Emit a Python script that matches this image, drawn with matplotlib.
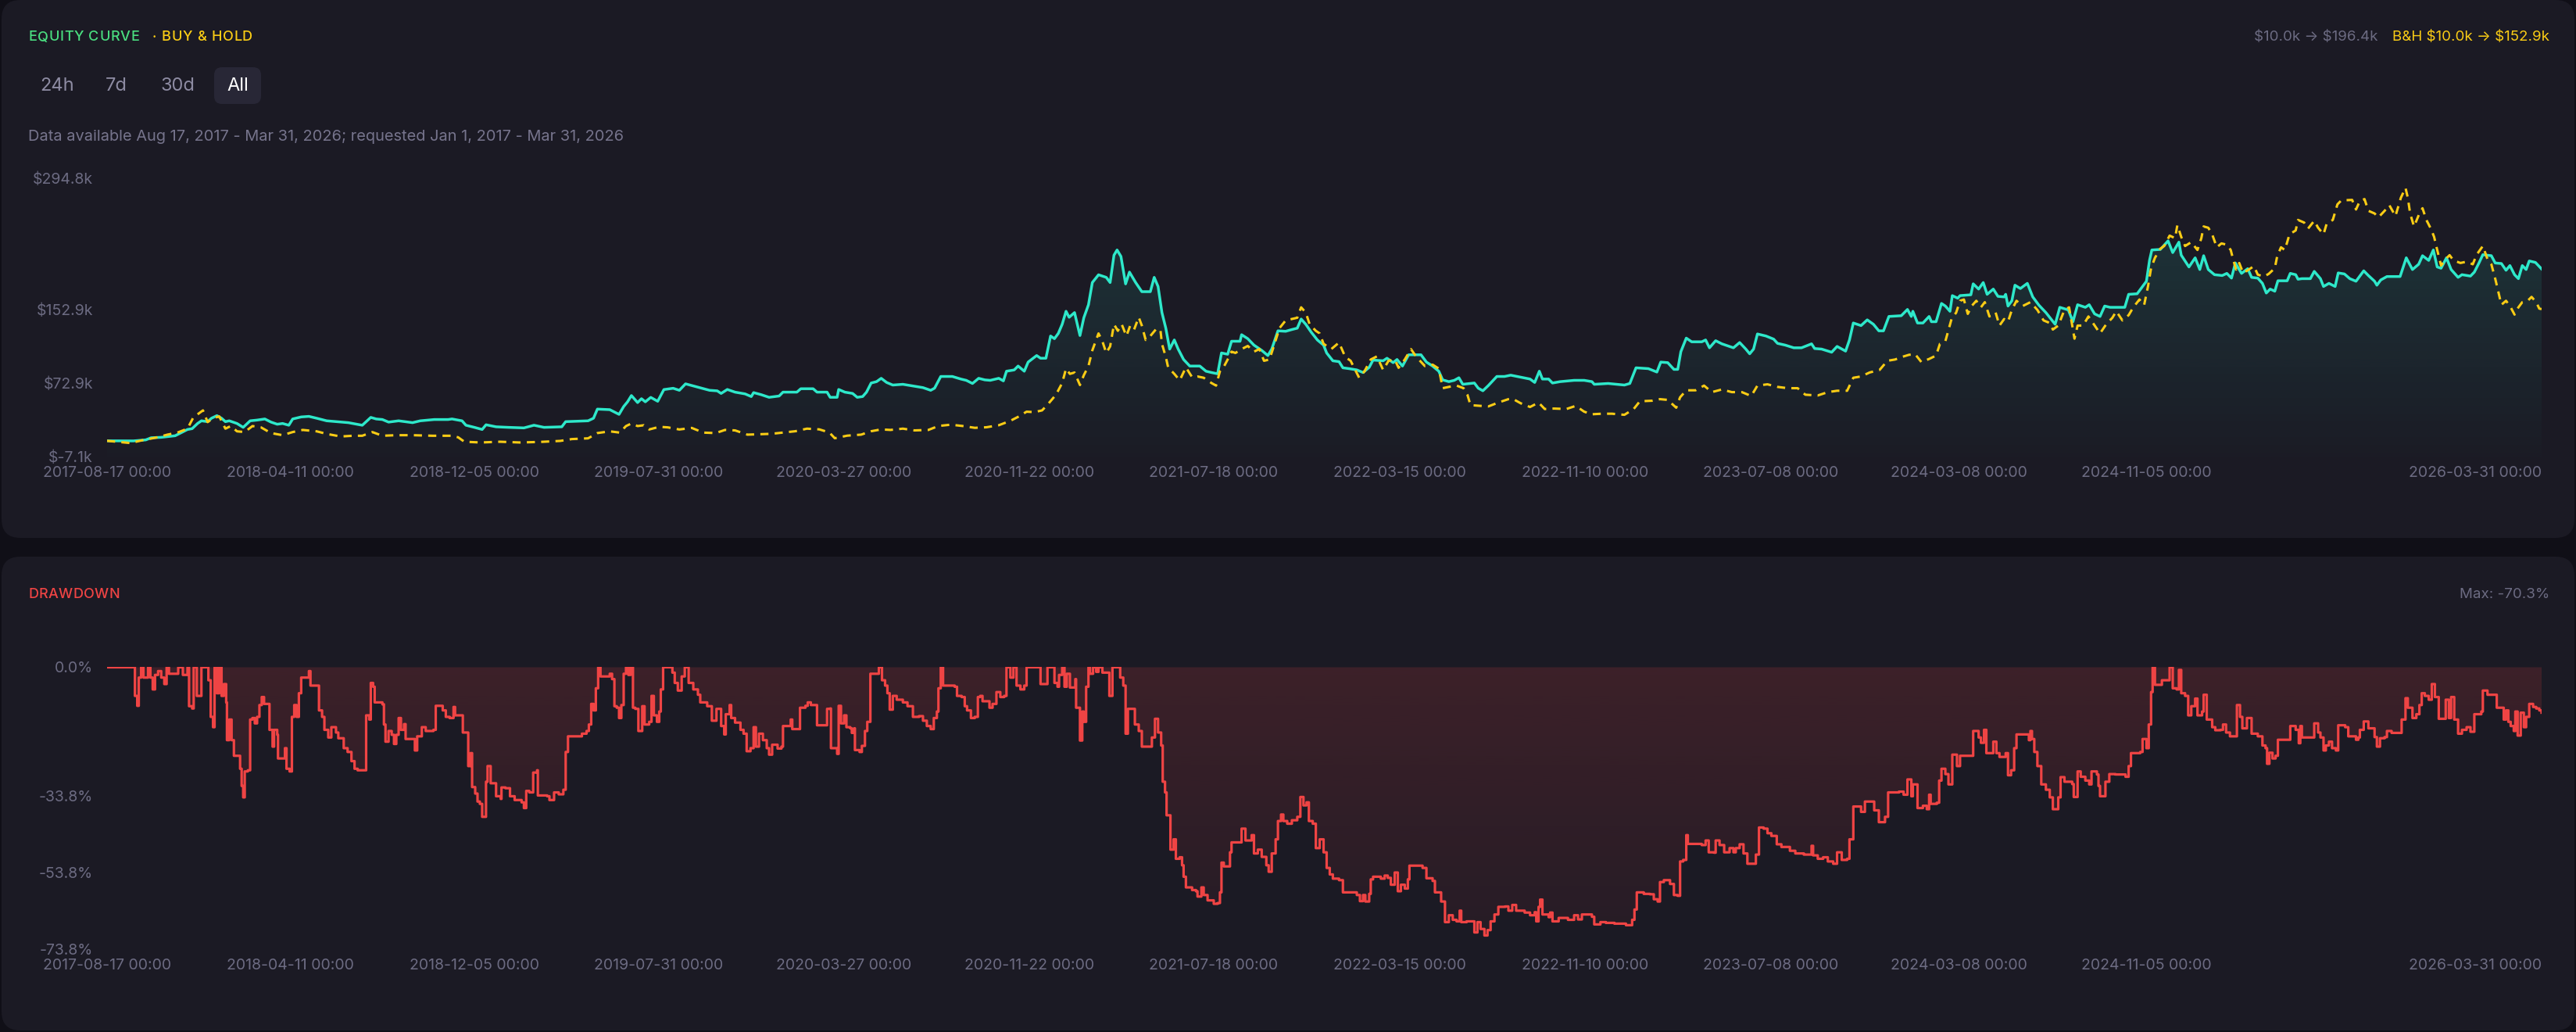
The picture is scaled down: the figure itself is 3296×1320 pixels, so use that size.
import numpy as np
import matplotlib
matplotlib.use("Agg")
import matplotlib.pyplot as plt
import matplotlib.dates as mdates
from matplotlib.patches import FancyBboxPatch
from matplotlib.font_manager import FontProperties

plt.rcParams['font.family'] = ['Inter', 'DejaVu Sans']

START = np.datetime64('2017-08-17')
END_DAY = 3148

# strategy equity, k$ (day offset from start, value)
eq_days = [0, 34, 50, 57, 70, 88, 96, 104, 110, 117, 122, 130, 135, 142, 148, 153, 158, 168, 176, 185,
           194, 204, 212, 220, 227, 235, 240, 251, 261, 271, 284, 297, 312, 330, 341, 348, 356, 364, 377, 395,
           405, 423, 441, 446, 459, 464, 475, 485, 490, 503, 519, 539, 552, 565, 588, 593, 622, 629, 634, 650,
           662, 668, 673, 678, 686, 691, 696, 703, 712, 720, 732, 740, 748, 763, 779, 789,
           794, 802, 812, 825, 833, 836, 846, 856, 869, 874, 892, 897, 913, 918, 931, 935, 944, 946, 954, 964,
           970, 977, 982, 988, 995, 1001, 1008, 1016, 1029, 1039, 1055, 1065, 1070, 1078, 1093, 1104, 1111, 1119,
           1127, 1135, 1142, 1153, 1159, 1163, 1173, 1178, 1186, 1191, 1202, 1207, 1214, 1220, 1225, 1230, 1235,
           1240, 1244, 1251, 1258, 1263, 1269, 1274, 1282, 1292, 1297, 1302, 1306, 1311, 1317, 1322, 1330, 1338,
           1349, 1354, 1359, 1364, 1369, 1374, 1380, 1385, 1392, 1400, 1413, 1421, 1428, 1436, 1441, 1449, 1454,
           1465, 1467, 1475, 1483, 1493, 1501, 1506, 1514, 1524, 1532, 1539, 1544, 1550, 1557, 1565, 1573,
           1577, 1585, 1593, 1598, 1606, 1616, 1624, 1632, 1637, 1650, 1655, 1663, 1668, 1675, 1683, 1699, 1706,
           1714, 1722, 1727, 1735, 1742, 1748, 1753, 1763, 1768, 1773, 1779, 1786, 1797, 1807, 1815, 1828, 1840,
           1846, 1852, 1856, 1864, 1869, 1879, 1897, 1910, 1920, 1923, 1941, 1962, 1969, 1977, 1993, 2004, 2009,
           2018, 2026, 2031, 2035, 2042, 2049, 2062, 2067, 2072, 2080, 2088, 2096, 2103, 2111, 2119, 2124, 2129,
           2134, 2145, 2155, 2160, 2170, 2181, 2191, 2204, 2208, 2217, 2230, 2237, 2248, 2253, 2258, 2268, 2276,
           2284, 2291, 2297, 2304, 2320, 2328, 2333, 2335, 2341,
           2348, 2356, 2359, 2365, 2372, 2377, 2383, 2386, 2393, 2396, 2410, 2413, 2420, 2426, 2431, 2439, 2445,
           2453, 2455, 2458, 2463, 2467, 2474, 2483, 2490, 2498, 2507, 2515, 2519, 2525, 2536, 2542, 2548, 2558,
           2563, 2570, 2577, 2583, 2590, 2609, 2614, 2625, 2632, 2637, 2641, 2644, 2655, 2665, 2671, 2679, 2682,
           2692, 2700, 2706, 2711, 2717, 2725, 2735, 2741, 2747, 2752, 2760, 2768, 2773, 2781, 2787, 2792, 2797,
           2803, 2807, 2819, 2823, 2830, 2833, 2838, 2849, 2854, 2862, 2866, 2873, 2881, 2885, 2893, 2900, 2908,
           2918, 2924, 2932, 2935, 2940, 2948, 2965, 2973, 2981, 2989, 2994, 3002, 3008, 3013, 3018, 3025, 3031,
           3040, 3045, 3056, 3061, 3067, 3072, 3083, 3088, 3096, 3102, 3107, 3113, 3118, 3123, 3128, 3132, 3140,
           3148]
eq_vals = [10.0, 9.9, 11.0, 13.3, 13.8, 15.5, 18.9, 22.3, 23.2, 28.8, 31.7, 30.8, 34.5, 37.3, 34.5, 30.8, 31.7, 28.8, 24.6, 31.7,
           32.5, 33.7, 30.3, 28.0, 28.8, 26.9, 33.7, 35.9, 36.5, 34.5, 31.7, 30.8, 29.7, 26.9, 35.4, 33.7, 33.1, 30.3, 31.7, 29.7,
           31.7, 33.1, 33.1, 33.7, 31.7, 26.9, 24.6, 22.3, 27.4, 25.2, 24.6, 24.0, 26.9, 24.6, 25.2, 30.8, 31.7, 34.5, 44.4, 43.8,
           38.7, 47.2, 52.3, 59.1, 51.5, 55.7, 52.3, 57.1, 52.9, 65.6, 67.0, 64.8, 71.8, 68.4, 64.8, 64.2,
           61.4, 65.7, 62.8, 60.9, 58.0, 62.3, 60.0, 57.2, 58.6, 62.8, 62.8, 66.5, 66.5, 62.8, 62.8, 57.2, 57.2, 65.7, 62.8, 61.4,
           57.2, 58.0, 62.8, 72.7, 74.2, 77.8, 73.3, 70.5, 71.3, 69.9, 67.7, 64.8, 67.1, 79.8, 79.8, 77.0, 75.6, 72.2,
           77.8, 76.1, 75.6, 77.8, 75.0, 85.5, 86.9, 91.1, 85.5, 95.4, 102.5, 99.6, 99.6, 123.7, 120.8, 126.5, 136.4,
           150.5, 144.0, 149.1, 124.2, 143.5, 157.6, 181.7, 190.1, 187.3, 181.7, 211.4, 217.0, 210.0, 180.2, 193.0, 181.7, 171.8,
           171.8, 187.3, 177.4, 149.1, 132.2, 109.5, 119.4, 109.5, 98.2, 91.1, 91.1, 85.5, 84.1, 82.7, 105.3, 103.9, 118.0,
           118.0, 125.1, 120.8, 113.8, 108.1, 102.5, 109.5, 129.3, 128.8, 130.7, 132.2, 142.1, 136.4, 127.9, 119.4, 113.8,
           105.3, 96.8, 95.9, 89.2, 88.3, 86.9, 84.1, 89.7, 97.6, 96.8, 99.6, 94.8, 98.2, 91.1, 103.3, 103.3, 95.4,
           91.1, 85.5, 76.1, 74.2, 75.6, 78.4, 71.3, 72.2, 72.7, 67.1, 64.3, 69.9, 79.8, 79.8, 81.2, 79.0, 77.0,
           73.3, 85.5, 77.0, 77.0, 72.7, 74.2, 75.6, 75.6, 74.2, 71.3, 72.2, 70.5, 72.2, 89.2, 88.3, 84.6, 95.4,
           94.8, 87.5, 87.5, 106.7, 121.4, 117.4, 117.4, 119.4, 110.9, 118.6, 115.2, 112.9, 110.9, 116.6, 109.5, 104.4, 109.5,
           125.9, 123.7, 120.3, 115.7, 113.8, 110.9, 110.9, 115.2, 110.1, 109.5, 106.1, 112.4, 107.3, 119.4, 137.8, 135.0, 141.2,
           136.4, 129.3, 129.3, 144.9, 145.7, 152.5, 144.9, 150.5, 137.8,
           137.8, 144.9, 139.2, 139.2, 159.0, 156.2, 150.5, 167.5, 164.7, 167.5, 168.4, 180.3, 174.6, 181.7, 168.9, 174.6, 166.7,
           166.1, 168.9, 156.2, 161.9, 178.8, 175.2, 180.8, 166.1, 157.1, 149.1, 140.6, 136.4, 154.8, 152.0, 139.2, 157.6, 154.8,
           157.6, 147.7, 144.9, 156.2, 154.8, 154.8, 168.9, 169.5, 177.4, 183.1, 205.7, 217.0, 217.6, 226.9, 214.2, 225.5, 211.4,
           198.6, 208.5, 195.8, 210.8, 195.8, 190.2, 189.3, 191.6, 186.5, 202.9, 191.6, 196.7, 187.3, 186.5, 180.8, 170.3, 174.6,
           172.3, 183.6, 183.6, 191.6, 190.2, 185.3, 185.9, 185.9, 193.8, 185.9, 177.4, 180.8, 177.4, 192.1, 191.0, 185.9, 183.1,
           194.4, 189.3, 183.1, 178.8, 184.5, 188.2, 188.2, 208.5, 195.8, 201.5, 210.8, 205.7, 217.0, 198.6, 197.2, 208.5, 195.8,
           187.3, 190.2, 188.7, 193.0, 202.9, 211.9, 210.8, 202.9, 202.3, 195.0, 200.1, 190.2, 185.9, 200.1, 195.8, 205.1, 203.5,
           196.4]

# buy & hold, k$
bh_days = [0, 30, 45, 65, 78, 91, 104, 111, 117, 124, 130, 137, 145, 153, 160, 168, 178, 188, 199, 212,
           227, 240, 253, 271, 284, 302, 318, 330, 343, 356, 374, 395, 421, 446, 454, 462, 483, 508, 534, 560,
           586, 601, 622, 634, 650, 663, 671, 678, 686, 694, 701, 714, 725, 740, 756, 771, 787,
           799, 812, 828, 859, 874, 890, 905, 921, 934, 941, 957, 975, 988, 1001, 1013, 1029, 1044, 1062, 1075,
           1091, 1106, 1122, 1137, 1153, 1168, 1178, 1189, 1199, 1209, 1217, 1227, 1235, 1240, 1245, 1251, 1258,
           1263, 1269, 1274, 1282, 1287, 1292, 1297, 1302, 1307, 1312, 1318, 1323, 1328, 1334, 1338, 1343, 1349,
           1356, 1362, 1364, 1369, 1372, 1380, 1387, 1395, 1403, 1410, 1418, 1428, 1434, 1439, 1444, 1449, 1454,
           1459, 1467, 1475, 1483, 1490, 1496, 1503, 1508, 1516, 1524, 1532, 1539, 1544, 1550, 1555, 1563, 1568,
           1573, 1583, 1593, 1601, 1608, 1619, 1626, 1634, 1642, 1650, 1657, 1665, 1670, 1678, 1686, 1693, 1704,
           1714, 1722, 1727, 1735, 1745, 1754, 1759, 1763, 1776, 1786, 1799, 1812, 1817, 1828, 1840, 1851, 1859,
           1871, 1887, 1899, 1910, 1920, 1933, 1946, 1962, 1974, 1982, 1998, 2008, 2018, 2029, 2034, 2042, 2054,
           2065, 2075, 2088, 2101, 2114, 2126, 2134, 2147, 2160, 2173, 2186, 2196, 2212, 2225, 2237, 2250, 2258,
           2268, 2279, 2292, 2302, 2312, 2321, 2330, 2338, 2346,
           2356, 2365, 2370, 2377, 2385, 2391, 2396, 2401, 2406, 2411, 2417, 2423, 2428, 2434, 2442, 2447, 2453,
           2458, 2463, 2469, 2477, 2487, 2496, 2504, 2512, 2516, 2523, 2531, 2537, 2544, 2548, 2555, 2562, 2569,
           2577, 2585, 2593, 2598, 2606, 2614, 2620, 2628, 2634, 2639, 2643, 2648, 2655, 2660, 2667, 2674, 2677,
           2682, 2687, 2695, 2703, 2708, 2711, 2717, 2722, 2728, 2734, 2741, 2746, 2749, 2753, 2757, 2762, 2768,
           2776, 2781, 2789, 2795, 2803, 2806, 2811, 2816, 2822, 2830, 2833, 2841, 2846, 2854, 2859, 2866, 2870,
           2878, 2884, 2889, 2903, 2908, 2913, 2919, 2924, 2932, 2937, 2945, 2951, 2959, 2966, 2972, 2975, 2978,
           2983, 2990, 2994, 2999, 3005, 3009, 3013, 3018, 3024, 3029, 3034, 3043, 3051, 3059, 3064, 3072, 3078,
           3083, 3088, 3092, 3096, 3102, 3108, 3113, 3118, 3123, 3130, 3135, 3141, 3145, 3148]
bh_vals = [10.0, 7.6, 10.5, 13.8, 16.7, 18.9, 23.2, 34.5, 38.7, 43.0, 30.3, 34.5, 36.5, 23.2, 26.0, 20.3, 19.5, 26.0, 24.6, 18.4,
           16.1, 19.5, 21.8, 20.3, 17.5, 14.7, 15.5, 15.5, 19.5, 15.5, 16.1, 16.1, 15.5, 15.5, 13.8, 9.0, 8.2, 9.0, 8.2, 8.8,
           9.9, 11.9, 12.7, 18.4, 20.3, 18.9, 26.0, 28.8, 26.0, 26.9, 22.3, 25.2, 24.6, 22.3, 24.0, 18.9, 18.4,
           21.8, 21.3, 16.7, 17.6, 19.0, 20.4, 23.2, 22.4, 19.0, 12.8, 15.6, 16.7, 20.4, 22.4, 21.8, 23.2, 21.3, 21.8, 26.1,
           27.5, 26.1, 24.1, 24.7, 26.9, 31.7, 36.0, 41.6, 41.1, 43.0, 50.1, 60.0, 72.7, 88.3, 82.6, 84.1, 70.5,
           81.2, 91.1, 108.1, 126.5, 118.0, 105.3, 112.4, 136.4, 129.3, 136.4, 123.7, 135.0, 130.7, 144.0, 135.0, 119.4, 123.7,
           130.7, 130.7, 115.2, 101.0, 89.7, 82.6, 75.6, 89.7, 79.0, 79.8, 78.4, 72.7, 69.9, 85.5, 90.3, 98.2, 106.7,
           105.3, 109.5, 112.9, 106.7, 109.5, 96.8, 98.2, 110.9, 132.2, 140.6, 142.1, 143.5, 154.8, 149.1, 136.4, 129.3, 126.5,
           115.2, 109.5, 116.6, 101.0, 96.8, 78.4, 85.5, 98.2, 101.6, 86.9, 96.8, 98.2, 89.2, 98.2, 109.5, 101.0, 91.1,
           92.6, 88.3, 67.1, 68.5, 69.9, 67.1, 60.0, 48.7, 47.9, 47.3, 51.5, 55.2, 55.8, 50.7, 46.7, 51.5, 44.5,
           45.0, 44.5, 47.9, 41.6, 38.8, 39.4, 39.4, 38.2, 44.5, 52.9, 53.5, 55.2, 54.4, 45.9, 57.2, 64.8, 64.8,
           69.9, 62.8, 65.7, 62.8, 62.8, 58.6, 69.9, 71.3, 68.5, 67.1, 67.1, 60.0, 59.2, 62.8, 64.3, 64.3, 78.4,
           79.8, 84.1, 86.9, 96.8, 98.2, 101.0, 103.3, 103.9, 95.4,
           98.8, 102.5, 115.2, 118.0, 142.1, 149.1, 161.9, 163.3, 147.7, 156.2, 161.9, 154.8, 160.4, 144.9, 149.1, 135.0, 142.1,
           139.2, 152.0, 161.9, 156.2, 160.4, 152.0, 140.6, 137.8, 130.7, 135.0, 152.0, 154.8, 120.8, 135.0, 135.0, 144.9, 136.4,
           126.5, 136.4, 143.5, 150.5, 140.6, 146.3, 154.8, 163.3, 157.1, 177.4, 197.2, 208.5, 218.4, 221.3, 232.6, 229.8, 243.9,
           231.2, 221.3, 225.5, 217.0, 229.8, 242.5, 241.1, 234.0, 219.9, 224.1, 222.7, 217.0, 207.1, 195.8, 202.9, 192.1, 195.0,
           199.5, 190.2, 188.2, 191.0, 197.2, 209.9, 219.9, 217.0, 234.0, 238.2, 249.6, 246.7, 240.2, 248.7, 241.1, 234.0, 245.3,
           249.6, 266.5, 270.8, 271.3, 260.9, 270.2, 272.2, 259.5, 256.6, 252.4, 259.5, 265.7, 253.8, 273.6, 284.4, 273.6, 256.6,
           242.5, 256.6, 262.3, 249.6, 239.7, 231.2, 217.0, 200.1, 207.1, 211.4, 205.7, 202.9, 204.3, 201.5, 211.9, 221.3, 207.1,
           201.5, 185.9, 171.8, 157.6, 161.9, 154.8, 146.9, 154.8, 160.4, 161.9, 166.1, 160.4, 153.4, 152.9]

# drawdown, % (step series)
dd_days = [0, 35, 36, 39, 41, 44, 47, 53, 56, 59, 62, 66, 70, 74, 77, 80, 89, 92, 98, 104,
           106, 110, 112, 116, 120, 122, 131, 134, 137, 139, 142, 145, 148, 151, 154, 155, 158, 161, 164, 170,
           172, 174, 176, 178, 182, 185, 188, 191, 194, 197, 200, 203, 209, 210, 214, 216, 220, 221, 228, 230,
           232, 236, 239, 242, 245, 248, 251, 257, 261, 263, 270, 274, 278, 281, 286, 290, 296, 299, 305, 306,
           311, 316, 320, 324, 332, 335, 339, 341, 344, 346, 356, 358, 360, 364, 368, 371, 374, 377, 380, 384,
           386, 395, 398, 401, 407, 412, 422, 425, 434, 438, 443, 448, 450, 458, 460, 464, 467, 470, 472, 476,
           479, 482, 485, 488, 490, 492, 496, 500, 503, 509, 510, 515, 521, 527, 536, 539, 542, 546, 551, 556,
           557, 569, 572, 578, 584, 590, 593, 596, 608, 614, 620, 623, 626, 629, 632, 635, 638, 647, 650, 653,
           656, 659, 662, 665, 668, 671, 674, 677, 680, 683, 687, 692, 695, 701, 704, 707, 711, 714, 716, 719,
           731, 734, 738, 743, 747, 752, 758, 764, 767, 776, 782, 788, 794, 798,
           800, 805, 807, 812, 819, 823, 827, 832, 836, 839, 843, 848, 853, 856, 860, 867, 872, 874, 880, 884,
           886, 894, 896, 903, 906, 910, 917, 918, 928, 931, 935, 936, 944, 946, 949, 953, 956, 961, 963, 966,
           967, 973, 976, 980, 983, 987, 995, 998, 1002, 1006, 1009, 1012, 1016, 1021, 1029, 1035, 1042, 1050, 1055,
           1060, 1065, 1069, 1073, 1075, 1078, 1081, 1096, 1099, 1105, 1109, 1112, 1117, 1122, 1126, 1129, 1132, 1138,
           1141, 1145, 1150, 1155, 1160, 1163, 1168, 1172, 1176, 1181, 1186, 1189, 1202, 1207, 1213, 1216, 1222, 1225,
           1229, 1231, 1235, 1238, 1241, 1245, 1250, 1252, 1253, 1258, 1261, 1263, 1266, 1269, 1271, 1275, 1279, 1282,
           1287, 1292, 1296, 1300, 1306, 1310, 1314, 1317, 1320, 1325, 1329, 1334, 1338, 1348, 1351, 1355, 1359, 1363,
           1365, 1368, 1370, 1374, 1375, 1379, 1382, 1387, 1390, 1392, 1395, 1403, 1408, 1410, 1415, 1418, 1423, 1431,
           1436, 1439, 1441, 1444, 1449, 1452, 1454, 1462, 1467, 1472, 1476, 1480, 1483, 1488, 1493, 1499, 1502, 1506,
           1511, 1514, 1518, 1521, 1526, 1532, 1539, 1543, 1547, 1551, 1554, 1559, 1563, 1568, 1573,
           1577, 1581, 1585, 1593, 1598, 1608, 1616, 1620, 1624, 1627, 1632, 1634, 1637, 1647, 1652, 1656, 1660, 1665,
           1669, 1673, 1678, 1682, 1684, 1701, 1706, 1714, 1717, 1722, 1725, 1730, 1735, 1740, 1745, 1749, 1751, 1758,
           1765, 1768, 1772, 1776, 1781, 1785, 1789, 1794, 1799, 1808, 1812, 1817, 1822, 1833, 1840, 1846, 1848, 1851,
           1853, 1856, 1864, 1866, 1869, 1877, 1889, 1897, 1902, 1907, 1920, 1923, 1931, 1938, 1949, 1964, 1972, 1975,
           1978, 1987, 1995, 2000, 2005, 2008, 2013, 2021, 2026, 2031, 2034, 2038, 2042, 2044, 2062, 2067, 2071, 2078,
           2080, 2085, 2091, 2098, 2103, 2106, 2111, 2116, 2121, 2129, 2132, 2136, 2142, 2147, 2152, 2159, 2165, 2176,
           2183, 2194, 2204, 2206, 2212, 2219, 2225, 2232, 2237, 2243, 2250, 2253, 2258, 2268, 2273, 2281, 2285, 2291,
           2299, 2303, 2317, 2323, 2328, 2333, 2335, 2341,
           2348, 2353, 2356, 2358, 2366, 2369, 2372, 2377, 2381, 2385, 2386, 2392, 2396, 2412, 2413, 2420, 2423, 2427,
           2430, 2436, 2439, 2443, 2447, 2453, 2455, 2458, 2462, 2466, 2469, 2485, 2487, 2489, 2492, 2496, 2501, 2507,
           2512, 2516, 2521, 2523, 2526, 2531, 2541, 2543, 2546, 2548, 2552, 2558, 2563, 2566, 2573, 2575, 2577, 2580,
           2584, 2589, 2597, 2606, 2610, 2614, 2617, 2629, 2632, 2637, 2640, 2643, 2645, 2648, 2655, 2657, 2665, 2667,
           2671, 2676, 2679, 2682, 2687, 2691, 2695, 2700, 2703, 2709, 2711, 2715, 2722, 2726, 2733, 2736, 2740, 2745,
           2753, 2754, 2758, 2761, 2767, 2773, 2781, 2787, 2791, 2793, 2796, 2800, 2804, 2807, 2822, 2823, 2830, 2834,
           2836, 2838, 2849, 2854, 2859, 2862, 2866, 2869, 2873, 2877, 2882, 2885, 2894, 2898, 2908, 2911, 2913, 2918,
           2924, 2928, 2932, 2935, 2939, 2945, 2948, 2954, 2966, 2967, 2972, 2975, 2981, 2986, 2990, 2993, 2997, 3002,
           3006, 3010, 3015, 3021, 3024, 3028, 3031, 3035, 3040, 3045, 3051, 3056, 3061, 3070, 3072, 3078, 3088, 3090,
           3098, 3099, 3102, 3105, 3108, 3112, 3114, 3117, 3121, 3125, 3128, 3132, 3137, 3141, 3145, 3148]
dd_vals = [0, 0, -7.5, -10.1, -2.7, 0, -2.7, 0, -2.7, -5.8, -2.0, -1.0, -2.7, -4.4, 0, -1.7, -1.7, 0, -2.0, 0,
           -10.2, -10.8, 0, -7.5, -7.5, 0, -3.4, -13.0, -15.7, 0, -6.8, 0, -7.5, -4.4, -9.2, -19.1, -13.7, -19.1, -23.2, -23.2,
           -26.6, -31.1, -34.1, -27.3, -27.0, -13.7, -13.3, -14.7, -13.0, -9.9, -7.8, -9.6, -9.6, -16.4, -20.8, -16.4, -17.7, -23.9, -23.9, -21.2,
           -26.6, -27.3, -13.0, -9.9, -13.0, -6.8, -2.7, -2.7, -1.0, -4.8, -4.8, -11.3, -13.0, -16.4, -18.4, -15.7, -17.1, -18.6, -18.6, -21.2,
           -22.2, -24.6, -26.6, -27.0, -27.0, -12.6, -13.7, -4.1, -5.1, -9.2, -9.7, -15.0, -19.5, -16.7, -17.7, -20.1, -17.7, -13.3, -16.4, -14.9,
           -18.8, -18.8, -21.8, -18.1, -15.7, -16.7, -16.4, -10.1, -11.3, -13.0, -13.3, -10.4, -12.6, -12.6, -17.1, -17.1, -25.9, -22.5, -31.4, -33.1,
           -35.2, -35.8, -39.2, -39.2, -30.0, -25.9, -30.4, -30.4, -33.8, -34.5, -31.5, -31.7, -33.8, -34.8, -35.4, -36.9, -32.4, -32.8, -27.6, -27.0,
           -33.6, -33.8, -34.8, -32.8, -33.3, -32.1, -22.2, -18.1, -18.1, -17.4, -16.7, -15.0, -9.6, -11.3, -5.5, 0, -2.4, -2.4, -1.7, -3.1,
           -10.2, -10.6, -13.3, -9.9, -1.7, 0, -2.0, 0, -10.6, -10.9, -16.7, -10.2, -15.0, -14.3, -7.5, -12.6, -14.3, -11.6, -5.8, 0,
           -1.4, -4.1, -6.1, -2.4, 0, -4.1, -5.8, -7.2, -9.2, -10.2, -14.0, -10.9, -15.4, -17.6,
           -12.3, -9.9, -13.3, -14.5, -16.4, -17.4, -22.0, -21.2, -15.7, -20.8, -17.4, -19.1, -21.2, -22.9, -20.3, -21.3, -20.8, -15.4, -15.4, -13.7,
           -16.2, -16.2, -10.6, -10.1, -9.2, -9.9, -9.9, -15.2, -15.2, -10.9, -10.8, -21.2, -22.7, -10.1, -14.7, -12.6, -15.7, -16.0, -17.2, -16.0,
           -21.7, -22.2, -20.6, -16.7, -14.3, -1.7, -1.7, 0, -3.4, -4.8, -6.8, -11.1, -7.5, -8.5, -9.2, -10.2, -13.0, -12.8, -14.0,
           -15.4, -16.2, -13.3, -11.6, -5.5, 0, -4.8, -5.1, -7.5, -7.8, -10.2, -11.3, -13.3, -13.0, -7.8, -7.5, -8.9, -8.9,
           -10.6, -9.6, -6.5, -7.8, -7.5, 0, -2.7, 0, -4.8, -5.8, -4.8, 0, 0, -4.4, -4.4, 0, 0, -4.1,
           -5.1, -2.0, 0, -5.1, -1.7, -5.3, -5.3, -3.1, -10.6, -19.2, -11.6, -14.3, -5.1, 0, -1.7, 0, -1.2, 0,
           -1.4, -1.4, -7.5, 0, 0, -2.7, -4.8, -17.4, -10.9, -10.9, -15.0, -16.7, -20.8, -20.8, -18.4, -13.5, -17.1, -20.5,
           -30.0, -32.8, -38.8, -38.8, -47.8, -45.1, -50.2, -49.8, -51.9, -54.9, -57.7, -58.4, -58.7, -60.1, -57.7, -59.7, -61.1, -62.0,
           -61.8, -59.0, -51.2, -52.2, -52.2, -48.5, -45.9, -45.9, -42.3, -45.4, -45.4, -44.0, -48.8, -47.8, -49.7, -51.9, -53.6, -48.8,
           -45.1, -40.3, -38.6, -40.3, -41.0, -40.1, -39.2, -34.0, -36.2, -35.4, -40.3, -41.0, -47.4, -45.1, -48.5,
           -52.6, -54.3, -55.4, -55.8, -59.0, -59.0, -59.7, -61.3, -59.7, -61.4, -59.4, -55.6, -54.9, -55.4, -54.6, -55.2, -57.0, -53.8,
           -58.7, -57.0, -58.0, -55.6, -52.0, -52.6, -55.3, -56.0, -59.0, -59.0, -61.4, -66.8, -65.0, -66.2, -66.6, -63.8, -66.8, -66.6,
           -66.6, -69.5, -66.8, -68.6, -70.3, -68.9, -66.6, -64.8, -62.8, -62.7, -63.8, -62.3, -63.8, -64.3, -65.0, -64.2, -66.6, -62.8,
           -60.9, -64.8, -65.5, -64.3, -66.6, -65.7, -66.2, -65.0, -66.1, -64.8, -65.4, -67.4, -66.8, -67.0, -67.2, -67.6, -66.2, -63.5,
           -59.0, -59.4, -59.5, -60.8, -61.4, -56.3, -55.8, -56.8, -59.7, -59.9, -50.9, -50.5, -44.0, -46.3, -46.6, -45.4, -48.5, -48.6,
           -45.4, -46.6, -48.5, -47.4, -48.5, -47.4, -46.4, -48.8, -51.5, -51.5, -49.1, -42.0, -42.3, -43.5, -44.2, -46.4, -47.1, -48.1,
           -48.8, -49.1, -46.8, -49.3, -50.2, -49.8, -50.9, -51.5, -48.5, -50.5, -50.2, -45.1, -36.5, -37.9, -35.2, -35.2, -37.5, -40.6,
           -39.2, -32.8, -32.6, -33.4, -29.4, -33.8, -30.7, -36.9,
           -36.3, -37.2, -33.4, -35.8, -35.5, -29.7, -26.6, -28.0, -30.7, -30.7, -22.9, -25.9, -23.2, -23.2, -16.7, -18.4, -19.8, -16.4,
           -22.5, -22.5, -19.5, -22.5, -23.5, -23.5, -22.5, -28.3, -27.0, -21.2, -17.6, -19.1, -16.7, -18.8, -22.2, -25.9, -30.7, -32.1,
           -34.1, -37.2, -37.2, -34.1, -28.8, -30.0, -30.6, -34.0, -34.0, -27.3, -28.7, -29.7, -30.7, -27.3, -28.1, -31.1, -33.8, -33.8,
           -30.0, -28.0, -28.1, -28.1, -28.7, -25.9, -22.5, -22.2, -18.8, -21.2, -15.0, -6.5, 0, -4.6, -4.6, -3.4, -3.4, 0,
           -5.5, -5.8, -0.7, -6.8, -7.5, -12.6, -10.2, -8.2, -12.6, -11.6, -7.2, -13.7, -15.7, -16.5, -16.4, -15.0, -17.1, -18.1,
           -18.1, -9.9, -13.0, -16.0, -13.3, -17.4, -18.1, -20.5, -21.2, -25.3, -22.4, -23.9, -23.2, -19.0, -19.0, -15.4, -16.4, -19.9,
           -15.4, -18.4, -18.4, -14.7, -17.1, -18.4, -21.8, -20.5, -19.5, -21.2, -21.8, -15.2, -15.7, -18.1, -19.0, -18.4, -16.4, -14.2,
           -16.0, -16.0, -18.3, -20.8, -18.6, -18.3, -16.7, -17.2, -17.2, -13.7, -8.1, -10.6, -13.3, -12.3, -9.9, -6.8, -7.5, -8.5,
           -4.4, -7.8, -13.5, -13.5, -8.5, -13.3, -7.8, -13.7, -17.4, -16.4, -15.7, -16.9, -12.3, -11.6, -6.1, -7.2, -7.2, -10.6,
           -10.6, -13.7, -11.3, -14.3, -15.4, -16.7, -11.6, -17.9, -11.9, -15.7, -13.0, -9.6, -10.4, -10.8, -11.3, -11.9]

eq_ticks = [-7.1, 72.9, 152.9, 294.8]
dd_ticks = [0.0, -33.8, -53.8, -73.8]
date_ticks = ['2017-08-17', '2018-04-11', '2018-12-05', '2019-07-31', '2020-03-27', '2020-11-22', '2021-07-18',
              '2022-03-15', '2022-11-10', '2023-07-08', '2024-03-08', '2024-11-05', '2026-03-31']

BG = '#100f17'
PANEL = '#1b1a24'
MUTED = '#6c6b82'
TEAL = '#2ee8ca'
GOLD = '#facc15'
RED = '#ef4444'

W, H = 3296, 1320
fig = plt.figure(figsize=(W / 100, H / 100), dpi=100, facecolor=BG)


def to_dates(days):
    return START + np.asarray(days).astype('timedelta64[D]')


def frac(x, y):
    return x / W, 1 - y / H


def panel(x, y, w, h, color, r=24):
    p = FancyBboxPatch((x / 100, (H - y - h) / 100), w / 100, h / 100,
                       boxstyle=f"round,pad=0,rounding_size={r / 100}",
                       transform=fig.dpi_scale_trans, fc=color, ec='none', zorder=0)
    fig.add_artist(p)


def tracked(x0, x1, y, s, color, size):
    # letter-spaced caps label stretched to span x0..x1 (pixels)
    r = fig.canvas.get_renderer()
    fp = FontProperties(family=['Inter', 'DejaVu Sans'], size=size, weight='medium')
    ws = []
    for ch in s:
        if ch == ' ':
            ws.append(size * 1.389 * 0.28)
        else:
            ws.append(r.get_text_width_height_descent(ch, fp, ismath=False)[0])
    gap = (x1 - x0 - sum(ws)) / max(len(s) - 1, 1)
    x = x0
    for ch, w in zip(s, ws):
        if ch != ' ':
            fig.text(*frac(x, y), ch, color=color, fontproperties=fp, ha='left', va='center')
        x += w + gap


panel(2, 0, 3292, 688, PANEL)
panel(2, 712, 3292, 606, PANEL)

# header texts
tracked(36, 178, 48, 'EQUITY CURVE', '#4ade80', 13)
tracked(195, 323, 48, '· BUY & HOLD', GOLD, 13)
fig.text(*frac(3262, 48), r'B&H \$10.0k → \$152.9k', color=GOLD, fontsize=13.5, ha='right', va='center')
fig.text(*frac(3043, 48), r'\$10.0k → \$196.4k', color=MUTED, fontsize=13.5, ha='right', va='center')

panel(274, 86, 60, 47, '#282736', r=10)
for label, cx, col in [('24h', 73, '#8d8ba2'), ('7d', 149, '#8d8ba2'), ('30d', 227, '#8d8ba2'), ('All', 304, '#ffffff')]:
    fig.text(*frac(cx, 110), label, color=col, fontsize=17, ha='center', va='center')

fig.text(*frac(36, 175), 'Data available Aug 17, 2017 - Mar 31, 2026; requested Jan 1, 2017 - Mar 31, 2026',
         color='#76748c', fontsize=14.4, ha='left', va='center')

tracked(36, 153, 760, 'DRAWDOWN', RED, 13)
fig.text(*frac(3262, 760), 'Max: -70.3%', color=MUTED, fontsize=13.5, ha='right', va='center')

ax1 = fig.add_axes([137 / W, 1 - 584 / H, 3115 / W, 356 / H])
ax2 = fig.add_axes([137 / W, 1 - 1213.6 / H, 3115 / W, 360.1 / H])

d_eq = to_dates(eq_days)
d_bh = to_dates(bh_days)
d_dd = to_dates(dd_days)
x0, x1 = START, START + np.timedelta64(END_DAY, 'D')
x0n, x1n = mdates.date2num(x0), mdates.date2num(x1)


def gradient(ax, rgb, a_top, a_bot, ylo, yhi, clip):
    g = np.zeros((256, 1, 4))
    g[:, 0, :3] = matplotlib.colors.to_rgb(rgb)
    g[:, 0, 3] = np.linspace(a_top, a_bot, 256)
    im = ax.imshow(g, extent=[x0n, x1n, ylo, yhi], aspect='auto', origin='upper',
                   interpolation='bilinear', zorder=1)
    im.set_clip_path(clip.get_paths()[0], transform=ax.transData)


# equity panel
ax1.plot(d_eq, eq_vals, color=TEAL, lw=2.5, zorder=3, solid_joinstyle='round')
ax1.plot(d_bh, bh_vals, color=GOLD, lw=2.2, ls=(0, (3.4, 2.6)), zorder=4)
poly = ax1.fill_between(d_eq, eq_vals, eq_ticks[0], facecolor='none', edgecolor='none')
gradient(ax1, TEAL, 0.15, 0.01, eq_ticks[0], eq_ticks[-1], poly)
ax1.set_ylim(eq_ticks[0], eq_ticks[-1])
ax1.set_yticks(eq_ticks)
ax1.set_yticklabels([f'${v:.1f}k' for v in eq_ticks])

# drawdown panel
ax2.plot(d_dd, dd_vals, color=RED, lw=2.3, drawstyle='steps-post', zorder=3)
poly2 = ax2.fill_between(d_dd, dd_vals, 0, step='post', facecolor='none', edgecolor='none')
gradient(ax2, RED, 0.16, 0.05, dd_ticks[-1], 0, poly2)
ax2.set_ylim(dd_ticks[-1], 0)
ax2.set_yticks(dd_ticks)
ax2.set_yticklabels([f'{v:.1f}%' for v in dd_ticks])

for ax in (ax1, ax2):
    ax.set_facecolor('none')
    ax.set_zorder(2)
    for s in ax.spines.values():
        s.set_visible(False)
    ax.set_xlim(x0n, x1n)
    ax.set_xticks(mdates.date2num(np.array(date_ticks, dtype='datetime64[D]')))
    ax.set_xticklabels([d + ' 00:00' for d in date_ticks])
    ax.get_xticklabels()[-1].set_ha('right')
    ax.tick_params(axis='both', length=0, labelsize=14, colors=MUTED)
    ax.tick_params(axis='x', pad=9)
    ax.tick_params(axis='y', pad=13)
    ax.grid(False)

fig.savefig('out.png', dpi=100, facecolor=BG)
